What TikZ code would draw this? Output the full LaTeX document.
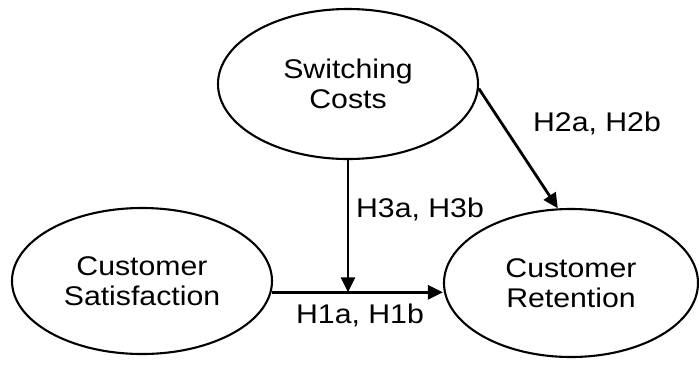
\documentclass[tikz,border=0pt]{standalone}
\usepackage{fontspec}
\setmainfont{Liberation Sans}[FakeStretch=1.12]
\usetikzlibrary{shapes.geometric,arrows.meta}

\begin{document}
\begin{tikzpicture}[x=1pt,y=-1pt,font=\fontsize{27}{30}\selectfont,
    construct/.style={draw,ellipse,line width=2.1pt,align=center,inner sep=0pt},
    link/.style={line width=2.8pt,-{Triangle[length=15pt,width=14pt]}},
    hyp/.style={anchor=base,inner sep=0pt}]
    \useasboundingbox (0,0) rectangle (699,365);
    % Research model: constructs
    \node[construct,minimum width=260pt,minimum height=150pt] (sw) at (348,84) {Switching\\Costs};
    \node[construct,minimum width=260pt,minimum height=146pt] (sat) at (142,281) {Customer\\Satisfaction};
    \node[construct,minimum width=254pt,minimum height=148pt] (ret) at (571,283) {Customer\\Retention};

    % Hypothesised paths
    \draw[link] (sat.-5) -- (sat.-5 -| ret.west);
    \draw[link] (sw.south) -- (sw.south |- sat.-5);
    \draw[link] (sw.-2) -- (ret.100);

    \node[hyp] (h1) at (360,323) {H1a, H1b};
    \node[hyp] (h2) at (597,131) {H2a, H2b};
    \node[hyp] (h3) at (420,217) {H3a, H3b};
\end{tikzpicture}
\end{document}
